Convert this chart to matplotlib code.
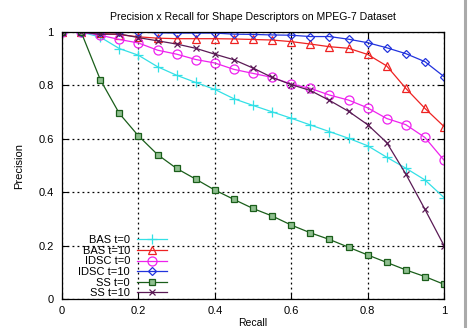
import matplotlib
matplotlib.use("Agg")
import matplotlib.pyplot as plt
from matplotlib.lines import Line2D

plt.rcParams['font.family'] = ['Liberation Sans', 'DejaVu Sans']

# recall points (0, 0.05, ..., 1)
recall = [0.0, 0.05, 0.1, 0.15, 0.2, 0.25, 0.3, 0.35, 0.4, 0.45, 0.5,
          0.55, 0.6, 0.65, 0.7, 0.75, 0.8, 0.85, 0.9, 0.95, 1.0]

# precision
bas_t0 = [1.0, 1.0, 0.981, 0.938, 0.913, 0.870, 0.838, 0.811, 0.785, 0.750, 0.725,
          0.701, 0.677, 0.652, 0.627, 0.602, 0.574, 0.531, 0.490, 0.446, 0.380]
bas_t10 = [1.0, 1.0, 0.995, 0.99, 0.982, 0.977, 0.975, 0.975, 0.975, 0.974, 0.972,
           0.970, 0.964, 0.955, 0.945, 0.939, 0.916, 0.873, 0.789, 0.714, 0.646]
idsc_t0 = [1.0, 1.0, 0.988, 0.972, 0.959, 0.932, 0.917, 0.897, 0.884, 0.860, 0.845,
           0.830, 0.805, 0.789, 0.764, 0.745, 0.716, 0.676, 0.653, 0.605, 0.52]
idsc_t10 = [1.0, 1.0, 1.0, 1.0, 1.0, 0.997, 0.996, 0.996, 0.996, 0.992, 0.991,
            0.989, 0.988, 0.983, 0.983, 0.973, 0.960, 0.941, 0.919, 0.889, 0.833]
ss_t0 = [1.0, 1.0, 0.822, 0.695, 0.611, 0.541, 0.489, 0.449, 0.408, 0.373, 0.339,
         0.311, 0.277, 0.248, 0.223, 0.194, 0.165, 0.137, 0.109, 0.084, 0.055]
ss_t10 = [1.0, 1.0, 0.991, 0.993, 0.979, 0.967, 0.955, 0.939, 0.917, 0.896, 0.865,
          0.830, 0.803, 0.781, 0.744, 0.703, 0.653, 0.586, 0.468, 0.336, 0.2]

series = [
    ("BAS t=0", bas_t0, "#33e0e6", "+", 6.5),
    ("BAS t=10", bas_t10, "#ee2222", "^", 5.5),
    ("IDSC t=0", idsc_t0, "#ee22ee", "o", 6.5),
    ("IDSC t=10", idsc_t10, "#2233dd", "D", 4.5),
    ("SS t=0", ss_t0, "#1a5e1a", "s", 4.5),
    ("SS t=10", ss_t10, "#5a1a55", "x", 4.5),
]

fig = plt.figure(figsize=(4.72, 3.28), dpi=100)
ax = fig.add_axes([0.1314, 0.0884, 0.8093, 0.814])

for label, vals, color, marker, ms in series:
    if marker in ("+", "x"):
        ax.plot(recall, vals, color=color, marker=marker, markersize=ms,
                markeredgewidth=0.9, linewidth=0.9, label=label)
    elif marker == "s":
        ax.plot(recall, vals, color=color, marker=marker, markersize=ms,
                markerfacecolor="#8fbf8f", markeredgecolor=color,
                markeredgewidth=0.9, linewidth=0.9, label=label)
    else:
        ax.plot(recall, vals, color=color, marker=marker, markersize=ms,
                markerfacecolor="none", markeredgewidth=0.9, linewidth=0.9,
                label=label)

ax.set_xlim(0, 1)
ax.set_ylim(0, 1)
ax.set_xticks([0, 0.2, 0.4, 0.6, 0.8, 1])
ax.set_yticks([0, 0.2, 0.4, 0.6, 0.8, 1])
ax.set_xticklabels(["0", "0.2", "0.4", "0.6", "0.8", "1"])
ax.set_yticklabels(["0", "0.2", "0.4", "0.6", "0.8", "1"])
ax.tick_params(direction="in", length=4, width=0.8, top=True, right=True,
               labelsize=8, pad=6, colors="black")
ax.tick_params(axis="x", pad=5)
ax.grid(True, linestyle=(0, (1.5, 2.5)), color="black", linewidth=0.9)
for sp in ax.spines.values():
    sp.set_linewidth(0.9)

ax.set_title("Precision x Recall for Shape Descriptors on MPEG-7 Dataset",
             fontsize=7.6, pad=9)
ax.set_xlabel("Recall", fontsize=7.5)
ax.xaxis.set_label_coords(0.5, -0.072)
ax.set_ylabel("Precision", fontsize=8, labelpad=10)

leg = ax.legend(loc="lower right", bbox_to_anchor=(0.28, -0.005),
                frameon=False, markerfirst=False, fontsize=8,
                handlelength=2.7, handletextpad=0.6, labelspacing=0.05,
                borderaxespad=0, borderpad=0.2)

# grey page edge on the right
fig.add_artist(Line2D([464.5 / 472, 464.5 / 472], [0, 1], color="#aaaaaa",
                      linewidth=2.2, transform=fig.transFigure))

fig.savefig("out.png", dpi=100)
